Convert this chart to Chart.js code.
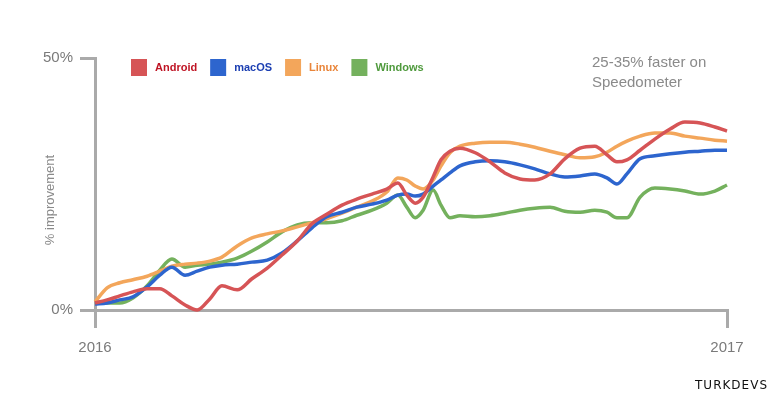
<!DOCTYPE html>
<html>
<head>
<meta charset="utf-8">
<script src="https://cdn.jsdelivr.net/npm/chart.js@4.4.1/dist/chart.umd.min.js"></script>
<style>
  html, body { margin: 0; padding: 0; background: #fff; }
  #wrap { width: 777px; height: 400px; }
</style>
</head>
<body>
<div id="wrap"><canvas id="speedChart" width="777" height="400"></canvas></div>
<script>
// months into 2016 (0 = Jan 2016, 12 = Jan 2017)
var months = [0, 0.23, 0.47, 0.72, 0.99, 1.23, 1.46, 1.71, 1.94, 2.18, 2.41, 2.70, 2.98, 3.27, 3.55, 3.84, 4.12, 4.40, 4.69, 4.97, 5.26, 5.54,
	5.75, 5.92, 6.08, 6.23, 6.42, 6.57, 6.74, 6.93,
	7.22, 7.50, 7.78, 8.07, 8.35, 8.64, 8.92, 9.21, 9.49, 9.72, 9.91, 10.10, 10.35, 10.63, 10.92, 11.20, 11.49, 11.77, 12];

var android = [1.4, 2.0, 2.8, 3.6, 4.2, 4.2, 2.8, 1.0, 0.0, 2.2, 4.8, 4.0, 6.2, 8.3, 10.9, 13.7, 17.1, 19.0, 20.8, 22.0, 23.0, 24.0,
	25.2, 22.8, 21.2, 22.4, 26.4, 29.8, 31.5, 32.1,
	31.2, 29.4, 27.2, 26.0, 25.8, 27.0, 30.0, 32.1, 32.5, 30.8, 29.4, 29.8, 31.7, 33.9, 35.9, 37.3, 37.1, 36.3, 35.5];

var macos = [1.2, 1.4, 2.0, 2.6, 4.6, 6.9, 8.5, 6.9, 7.7, 8.5, 8.9, 9.1, 9.5, 9.9, 11.3, 13.7, 16.3, 18.5, 19.4, 20.4, 21.0, 21.8,
	22.8, 23.0, 22.6, 23.0, 24.6, 25.8, 27.2, 28.6,
	29.4, 29.6, 29.4, 28.8, 28.0, 27.0, 26.4, 26.6, 27.0, 26.2, 25.0, 27.0, 30.0, 30.6, 31.0, 31.3, 31.5, 31.7, 31.7];

var linux = [1.6, 4.4, 5.4, 6.0, 6.7, 7.7, 8.7, 9.1, 9.3, 9.7, 10.5, 12.7, 14.3, 15.1, 15.7, 16.5, 17.3, 18.1, 19.2, 20.4, 21.6, 23.4,
	26.2, 25.8, 24.6, 24.0, 25.8, 28.6, 31.2, 32.5,
	33.1, 33.3, 33.3, 32.9, 32.3, 31.5, 30.8, 30.2, 30.4, 31.3, 32.5, 33.5, 34.5, 35.1, 35.1, 34.5, 34.1, 33.7, 33.5];

var windows = [1.6, 1.4, 1.4, 2.4, 4.8, 7.9, 10.1, 8.5, 8.9, 9.1, 9.5, 10.3, 11.7, 13.5, 15.5, 16.9, 17.3, 17.3, 17.7, 18.8, 19.8, 21.2,
	22.8, 20.4, 18.3, 19.8, 23.8, 20.8, 18.3, 18.7,
	18.5, 18.7, 19.2, 19.8, 20.2, 20.4, 19.6, 19.4, 19.8, 19.4, 18.3, 18.3, 22.4, 24.2, 24.0, 23.6, 23.0, 23.6, 24.8];

var xTickLabels = ['2016', '2017'];
var yTickLabels = ['0%', '50%'];
var seriesNames = ['Android', 'macOS', 'Linux', 'Windows'];
var lineColors = ['#d65456', '#2d65ce', '#f3a65b', '#74b15d'];
var labelColors = ['#bf1424', '#1c3fb2', '#e9853a', '#4f9a3d'];

function toPoints(values) {
	return values.map(function (v, i) { return { x: months[i], y: v }; });
}

var gray = '#aaaaaa';
var fontFamily = '"Liberation Sans", Arial, sans-serif';

// legend, note, axis title and logo
var extrasPlugin = {
	id: 'extras',
	afterDraw: function (chart) {
		var ctx = chart.ctx;
		ctx.save();
		// legend
		var x = 131;
		ctx.font = 'bold 11px ' + fontFamily;
		ctx.textBaseline = 'middle';
		ctx.textAlign = 'left';
		chart.data.datasets.forEach(function (ds, i) {
			ctx.fillStyle = ds.borderColor;
			ctx.fillRect(x, 59, 16, 17);
			ctx.fillStyle = labelColors[i];
			ctx.fillText(ds.label, x + 24, 67.5);
			x += 24 + ctx.measureText(ds.label).width + 13;
		});
		// note
		ctx.font = '15px ' + fontFamily;
		ctx.fillStyle = '#8a8a8a';
		ctx.fillText('25-35% faster on', 592, 63);
		ctx.fillText('Speedometer', 592, 83);
		// y title
		ctx.save();
		ctx.translate(50, 200);
		ctx.rotate(-Math.PI / 2);
		ctx.textAlign = 'center';
		ctx.font = '13px ' + fontFamily;
		ctx.fillText('% improvement', 0, 0);
		ctx.restore();
		// logo
		ctx.font = '12px "DejaVu Sans", sans-serif';
		ctx.fillStyle = '#111';
		ctx.textAlign = 'right';
		ctx.letterSpacing = '1px';
		ctx.fillText('TURKDEVS', 768, 386);
		ctx.restore();
	}
};

var ctxSpeed = document.getElementById('speedChart').getContext('2d');
var speedChart = new Chart(ctxSpeed, {
	type: 'line',
	data: {
		datasets: [android, macos, linux, windows].map(function (vals, i) {
			return {
				label: seriesNames[i],
				data: toPoints(vals),
				borderColor: lineColors[i],
				backgroundColor: lineColors[i],
				borderWidth: 3.5,
				pointRadius: 0,
				fill: false,
				cubicInterpolationMode: 'monotone',
				clip: 8
			};
		})
	},
	options: {
		responsive: false,
		animation: false,
		layout: { padding: { top: 58, right: 50, bottom: 0, left: 0 } },
		plugins: {
			legend: { display: false },
			tooltip: { enabled: false }
		},
		scales: {
			x: {
				type: 'linear',
				min: 0,
				max: 12,
				afterBuildTicks: function (s) { s.ticks = [{ value: 0 }, { value: 12 }]; },
				afterFit: function (s) { s.height = 90; },
				ticks: {
					callback: function (v) { return v === 0 ? xTickLabels[0] : xTickLabels[1]; },
					color: '#7a7a7a',
					font: { size: 15, family: fontFamily },
					padding: 11,
					maxRotation: 0,
					autoSkip: false
				},
				grid: { drawOnChartArea: false, tickLength: 18, color: gray, lineWidth: 3 },
				border: { color: gray, width: 3 }
			},
			y: {
				min: 0,
				max: 50,
				afterBuildTicks: function (s) { s.ticks = [{ value: 0 }, { value: 50 }]; },
				afterFit: function (s) { s.width = 95; },
				ticks: {
					callback: function (v) { return v === 0 ? yTickLabels[0] : yTickLabels[1]; },
					color: '#7a7a7a',
					font: { size: 15, family: fontFamily },
					padding: 7
				},
				grid: { drawOnChartArea: false, tickLength: 15, color: gray, lineWidth: 3 },
				border: { color: gray, width: 3 }
			}
		}
	},
	plugins: [extrasPlugin]
});
</script>
</body>
</html>
